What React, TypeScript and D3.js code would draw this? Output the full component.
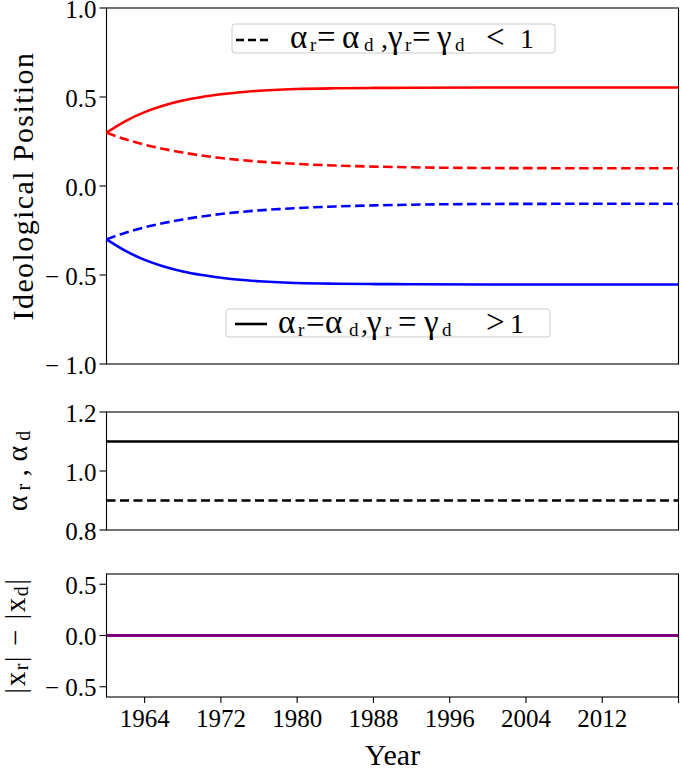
import React from 'react'
import * as d3 from 'd3'

// years sampled along the model curves
const years = [1960, 1962, 1964, 1966, 1968, 1970, 1972, 1974, 1976, 1978, 1980, 1984, 1988, 1992, 2000, 2010, 2020]
// republican (red) / democrat (blue) positions, solid: gamma > 1, dashed: gamma < 1
const repSolid = [0.3, 0.365, 0.415, 0.452, 0.48, 0.5, 0.515, 0.527, 0.535, 0.541, 0.545, 0.549, 0.551, 0.552, 0.553, 0.553, 0.553]
const repDashed = [0.3, 0.262, 0.232, 0.208, 0.188, 0.171, 0.157, 0.146, 0.137, 0.13, 0.124, 0.115, 0.109, 0.105, 0.101, 0.1, 0.1]
const demSolid = [-0.3, -0.365, -0.415, -0.452, -0.48, -0.5, -0.515, -0.527, -0.535, -0.541, -0.545, -0.549, -0.551, -0.552, -0.553, -0.553, -0.553]
const demDashed = [-0.3, -0.262, -0.232, -0.208, -0.188, -0.171, -0.157, -0.146, -0.137, -0.13, -0.124, -0.115, -0.109, -0.105, -0.101, -0.1, -0.1]

const spanYears = [1960, 2020]
const alphaHigh = [1.1, 1.1]
const alphaLow = [0.9, 0.9]
const posDiff = [0, 0]

const xTicks = [1964, 1972, 1980, 1988, 1996, 2004, 2012, 2020]
const xTickLabels = ['1964', '1972', '1980', '1988', '1996', '2004', '2012', '']
const topTicks = [-1, -0.5, 0, 0.5, 1]
const midTicks = [0.8, 1.0, 1.2]
const botTicks = [-0.5, 0, 0.5]

// legend labels, split into glyph runs (kind: 0 symbol, 1 subscript, 2 plain)
const legendLow = [
  ['α', 0], ['r', 1], ['=', 0], ['α', 0], ['d', 1], [',', 2], ['γ', 0], ['r', 1], ['=', 0], ['γ', 0], ['d', 1], ['<', 0], ['1', 2],
] as const
const legendHigh = [
  ['α', 0], ['r', 1], ['=', 0], ['α', 0], ['d', 1], [',', 2], ['γ', 0], ['r', 1], ['=', 0], ['γ', 0], ['d', 1], ['>', 0], ['1', 2],
] as const
// where each glyph run starts, in px
const legendLowX = [290, 310, 317, 342, 364, 381, 388, 405, 412, 437, 455, 486, 520]
const legendHighX = [278, 298, 306, 325, 349, 361, 367, 385, 398, 424, 442, 486, 510]

const W = 681
const H = 772
const font = "'Liberation Serif', 'Times New Roman', Times, 'DejaVu Serif', serif"
const left = 106.5
const right = 678.5

const x = d3.scaleLinear().domain([1960, 2020]).range([left, right])
const yTop = d3.scaleLinear().domain([-1, 1]).range([364, 8])
const yMid = d3.scaleLinear().domain([0.8, 1.2]).range([530, 412])
const yBot = d3.scaleLinear().domain([-0.6, 0.6]).range([697, 574])

const fmt = (v: number) => (v < 0 ? '\u2212 ' : '') + Math.abs(v).toFixed(1)

function pathFor(xs: number[], ys: number[], y: d3.ScaleLinear<number, number>) {
  const line = d3
    .line<number>()
    .x((_, i) => x(xs[i]))
    .y((d) => y(d))
    .curve(d3.curveMonotoneX)
  return line(ys) || ''
}

function Frame({ y, ticks }: { y: d3.ScaleLinear<number, number>; ticks: number[] }) {
  const [y0, y1] = y.range()
  return (
    <g>
      <rect x={left} y={y1} width={right - left} height={y0 - y1} fill="none" stroke="#000" strokeWidth={1.1} />
      {ticks.map((t) => (
        <g key={t}>
          <line x1={left - 7} x2={left} y1={y(t)} y2={y(t)} stroke="#000" strokeWidth={1.1} />
          <text x={left - 10} y={y(t)} dy="0.38em" textAnchor="end" fontSize={25}>
            {fmt(t)}
          </text>
        </g>
      ))}
    </g>
  )
}

const runSize = [33, 19, 28]

function LegendText({ runs, xs, base }: { runs: readonly (readonly [string, number])[]; xs: number[]; base: number }) {
  return (
    <g>
      {runs.map(([t, k], i) => (
        <text key={i} x={xs[i]} y={base + (k === 1 ? 3 : 0)} fontSize={runSize[k]}>
          {t}
        </text>
      ))}
    </g>
  )
}

export default function App() {
  return (
    <svg
      width={W}
      height={H}
      style={{ position: 'absolute', left: 0, top: 0, background: '#fff', fontFamily: font }}
    >
      {/* top panel */}
      <Frame y={yTop} ticks={topTicks} />
      <path d={pathFor(years, repSolid, yTop)} fill="none" stroke="#ff0000" strokeWidth={2.6} />
      <path d={pathFor(years, repDashed, yTop)} fill="none" stroke="#ff0000" strokeWidth={2.6} strokeDasharray="9.5,4.5" />
      <path d={pathFor(years, demSolid, yTop)} fill="none" stroke="#0000ff" strokeWidth={2.6} />
      <path d={pathFor(years, demDashed, yTop)} fill="none" stroke="#0000ff" strokeWidth={2.6} strokeDasharray="9.5,4.5" />
      <text
        transform={`translate(22,${(yTop.range()[0] + yTop.range()[1]) / 2}) rotate(-90)`}
        textAnchor="middle"
        dy="0.35em"
        fontSize={30}
        letterSpacing={1.4}
      >
        Ideological Position
      </text>

      {/* legend: gamma < 1 */}
      <rect x={232} y={24} width={323} height={29} rx={3} fill="#fff" fillOpacity={0.8} stroke="#ccc" />
      <line x1={236} x2={270} y1={40} y2={40} stroke="#000" strokeWidth={2.6} strokeDasharray="8,4" />
      <LegendText runs={legendLow} xs={legendLowX} base={48} />

      {/* legend: gamma > 1 */}
      <rect x={226} y={309} width={324} height={28} rx={3} fill="#fff" fillOpacity={0.8} stroke="#ccc" />
      <line x1={235} x2={267} y1={324} y2={324} stroke="#000" strokeWidth={2.6} />
      <LegendText runs={legendHigh} xs={legendHighX} base={333} />

      {/* middle panel */}
      <Frame y={yMid} ticks={midTicks} />
      <path d={pathFor(spanYears, alphaHigh, yMid)} fill="none" stroke="#000" strokeWidth={2.6} />
      <path d={pathFor(spanYears, alphaLow, yMid)} fill="none" stroke="#000" strokeWidth={2.6} strokeDasharray="9,4.5" />
      <text
        transform={`translate(18,${(yMid.range()[0] + yMid.range()[1]) / 2}) rotate(-90)`}
        textAnchor="middle"
        dy="0.3em"
        fontSize={30}
      >
        α<tspan dy={3} style={{ fontSize: 20 }}> r</tspan>
        <tspan dy={-3}> , α</tspan>
        <tspan dy={3} style={{ fontSize: 20 }}> d</tspan>
      </text>

      {/* bottom panel */}
      <Frame y={yBot} ticks={botTicks} />
      <path d={pathFor(spanYears, posDiff, yBot)} fill="none" stroke="#800080" strokeWidth={2.8} />
      <text
        transform={`translate(16,${(yBot.range()[0] + yBot.range()[1]) / 2}) rotate(-90)`}
        textAnchor="middle"
        dy="0.32em"
        fontSize={29}
        letterSpacing={1.5}
      >
        |x<tspan dy={3} style={{ fontSize: 20 }}>r</tspan>
        <tspan dy={-3}>| − |x</tspan>
        <tspan dy={3} style={{ fontSize: 20 }}>d</tspan>
        <tspan dy={-3}>|</tspan>
      </text>

      {/* x axis */}
      {xTicks.map((t, i) => (
        <g key={t}>
          <line x1={x(t)} x2={x(t)} y1={697} y2={703} stroke="#000" strokeWidth={1.1} />
          <text x={x(t)} y={727} textAnchor="middle" fontSize={25}>
            {xTickLabels[i]}
          </text>
        </g>
      ))}
      <text x={(left + right) / 2} y={765} textAnchor="middle" fontSize={30}>
        Year
      </text>
    </svg>
  )
}
